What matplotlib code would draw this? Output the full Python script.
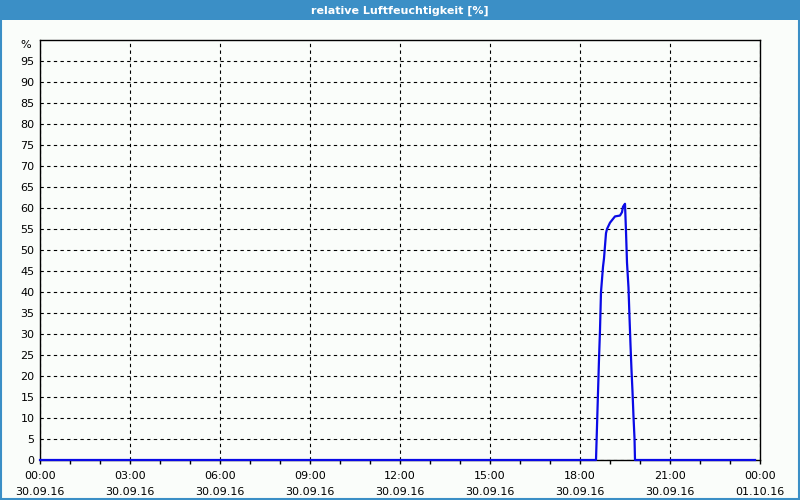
import numpy as np
import matplotlib
matplotlib.use("Agg")
import matplotlib.pyplot as plt
from matplotlib.patches import Rectangle
from matplotlib.ticker import MultipleLocator

# time in minutes since 30.09.16 00:00, relative humidity in %
minutes = [0, 1112, 1114, 1116, 1118, 1120, 1122, 1124, 1126, 1128, 1130, 1132,
           1134, 1140, 1150, 1160, 1164, 1166, 1170, 1172, 1174, 1177, 1179,
           1181, 1183, 1185, 1187, 1189, 1190, 1430]
humidity = [0, 0, 8, 16, 24, 31, 40, 43, 46, 48, 51, 54,
            55, 56.5, 58, 58.2, 59, 60.3, 61, 54.4, 47, 41, 34,
            27.4, 21.4, 16.3, 10.3, 5.2, 0, 0]

tick_hours = [0, 3, 6, 9, 12, 15, 18, 21, 24]
tick_labels = ["00:00\n30.09.16", "03:00\n30.09.16", "06:00\n30.09.16",
               "09:00\n30.09.16", "12:00\n30.09.16", "15:00\n30.09.16",
               "18:00\n30.09.16", "21:00\n30.09.16", "00:00\n01.10.16"]
title = "relative Luftfeuchtigkeit [%]"

bg = "#fafdfa"
frame_blue = "#3b8fc6"

plt.rcParams["font.family"] = "DejaVu Sans"
plt.rcParams["font.size"] = 8

fig = plt.figure(figsize=(8, 5), dpi=100, facecolor=bg)

# title bar and frame
fig.patches.append(Rectangle((0, 1 - 20 / 500), 1, 20 / 500, transform=fig.transFigure,
                             facecolor=frame_blue, edgecolor="none", zorder=0))
fig.patches.append(Rectangle((0.001, 0.002), 0.998, 0.996, transform=fig.transFigure,
                             facecolor="none", edgecolor=frame_blue, lw=1.5, zorder=1))
fig.text(0.5, 1 - 10.5 / 500, title, color="white", ha="center", va="center",
         fontsize=8, fontweight="bold")

ax = fig.add_axes([40 / 800, 40 / 500, 720 / 800, 420 / 500])
ax.set_facecolor(bg)

hours = np.array(minutes) / 60.0
ax.plot(hours, humidity, color="#0a0ae6", lw=1.6, zorder=3, clip_on=False)

ax.set_xlim(0, 24)
ax.set_ylim(0, 100)

ax.set_yticks(np.arange(0, 100, 5))
ax.yaxis.set_tick_params(length=0, pad=4)
ax.set_xticks(tick_hours)
ax.set_xticklabels(tick_labels, linespacing=1.75)
ax.xaxis.set_minor_locator(MultipleLocator(1))
ax.tick_params(axis="x", which="both", length=3, width=1, direction="out", pad=5)

ax.grid(True, which="major", color="black", linestyle=(0, (3, 3)), lw=0.8)
for s in ax.spines.values():
    s.set_color("black")
    s.set_linewidth(1)

ax.text(-0.3, 98.8, "%", ha="right", va="center", fontsize=8)

fig.savefig("out.png", dpi=100, facecolor=bg)
